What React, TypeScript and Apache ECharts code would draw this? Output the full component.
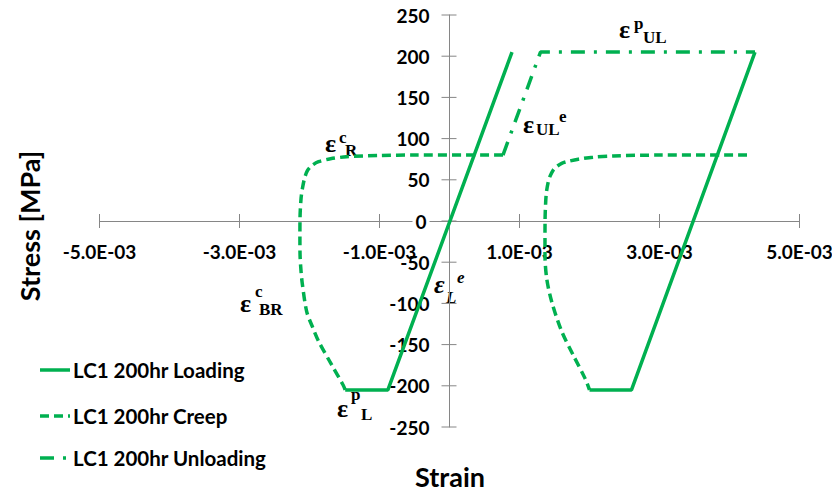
import React, { useEffect, useRef } from "react";
import * as echarts from "echarts";

const GREEN = "#00B050";
const AXIS_GRAY = "#868686";
const SANS = "Lato";
const SERIF = "Liberation Serif";

const seriesNames = ["LC1 200hr Loading", "LC1 200hr Creep", "LC1 200hr Unloading"];

// strain [-], stress [MPa]
const loadingLeft: [number, number][] = [
  [-1.49e-3, -205], [-0.88e-3, -205], [0.893e-3, 205],
];
const loadingRight: [number, number][] = [
  [2.0e-3, -205], [2.6e-3, -205], [4.364e-3, 205],
];
const creepLeft: [number, number][] = [
  [0.764e-3, 80], [-0.5e-3, 80], [-1.0e-3, 79.5], [-1.47e-3, 78], [-1.7e-3, 75.5],
  [-1.87e-3, 72], [-1.97e-3, 67], [-2.03e-3, 61], [-2.07e-3, 52], [-2.1e-3, 40],
  [-2.12e-3, 28], [-2.135e-3, 5], [-2.137e-3, -20], [-2.135e-3, -41], [-2.12e-3, -62],
  [-2.1e-3, -78], [-2.04e-3, -110], [-1.96e-3, -128], [-1.87e-3, -146],
  [-1.68e-3, -175], [-1.52e-3, -199], [-1.49e-3, -205],
];
const creepRight: [number, number][] = [
  [4.25e-3, 80], [3.0e-3, 80], [2.34e-3, 79], [2.05e-3, 77.5], [1.84e-3, 75],
  [1.7e-3, 72.5], [1.603e-3, 70], [1.53e-3, 66], [1.483e-3, 62], [1.44e-3, 55],
  [1.411e-3, 47.7], [1.385e-3, 35], [1.374e-3, 23], [1.365e-3, 0], [1.364e-3, -41],
  [1.389e-3, -70], [1.46e-3, -98], [1.603e-3, -134], [1.769e-3, -163],
  [1.936e-3, -191], [2.0e-3, -205],
];
const unloading: [number, number][] = [
  [0.764e-3, 80], [1.3e-3, 205], [4.364e-3, 205],
];

const xTickValues = [-5e-3, -3e-3, -1e-3, 1e-3, 3e-3, 5e-3];
const yTickValues = [-250, -200, -150, -100, -50, 0, 50, 100, 150, 200, 250];

const DASH_CREEP = [9, 5];
const DASH_UNLOAD = [14, 9, 3, 9];

type Part = { t: string; x: number; base: number; fs: number; italic?: boolean };
const annotations: Part[][] = [
  [{ t: "ε", x: 325, base: 152, fs: 26 }, { t: "c", x: 339, base: 143, fs: 17 }, { t: "R", x: 345, base: 156, fs: 17 }],
  [{ t: "ε", x: 240, base: 312, fs: 26 }, { t: "c", x: 255, base: 297, fs: 17 }, { t: "BR", x: 259, base: 315, fs: 17 }],
  [{ t: "ε", x: 337, base: 417, fs: 26 }, { t: "p", x: 351, base: 400, fs: 17 }, { t: "L", x: 361, base: 420, fs: 17 }],
  [{ t: "ε", x: 434, base: 293, fs: 26, italic: true }, { t: "L", x: 446, base: 303, fs: 17, italic: true }, { t: "e", x: 457, base: 283, fs: 17, italic: true }],
  [{ t: "ε", x: 523, base: 133, fs: 26 }, { t: "UL", x: 536, base: 135.5, fs: 17 }, { t: "e", x: 559, base: 122, fs: 17 }],
  [{ t: "ε", x: 619, base: 38.5, fs: 26 }, { t: "p", x: 634, base: 29, fs: 17 }, { t: "UL", x: 643, base: 43.5, fs: 17 }],
];

function fmtSci(v: number): string {
  const [m, e] = v.toExponential(1).split("e");
  const n = parseInt(e, 10);
  const sign = n < 0 ? "-" : "+";
  return `${m}E${sign}${String(Math.abs(n)).padStart(2, "0")}`;
}

const LABEL_FONT = `bold 19px "${SANS}"`;
const LEGEND_FONT = `bold 20.5px "${SANS}"`;

export default function App() {
  const ref = useRef<HTMLDivElement>(null);
  useEffect(() => {
    if (!ref.current) return;
    const chart = echarts.init(ref.current, undefined, { renderer: "svg" });

    const lineBase = (name: string, data: [number, number][], type: any, smooth: number | boolean = false) => ({
      name,
      type: "line",
      data,
      symbol: "none",
      showSymbol: false,
      smooth,
      z: 3,
      silent: true,
      itemStyle: { color: GREEN },
      lineStyle: { color: GREEN, width: 3.5, type, cap: "butt" },
    });

    // ticks + labels, placed through the axes' scales
    const axisMarks = (vals: number[], isX: boolean) => ({
      type: "custom",
      silent: true,
      z: 1,
      data: vals.map((v) => (isX ? [v, 0] : [0, v])),
      renderItem: (_p: any, api: any) => {
        const v = isX ? api.value(0) : api.value(1);
        const p = api.coord([api.value(0), api.value(1)]);
        const tick = isX
          ? { x1: p[0], y1: p[1] - 7, x2: p[0], y2: p[1] + 7 }
          : { x1: p[0] - 8, y1: p[1], x2: p[0] + 7, y2: p[1] };
        const label = isX ? fmtSci(v) : String(Math.round(v));
        return {
          type: "group",
          children: [
            { type: "line", shape: tick, style: { stroke: AXIS_GRAY, lineWidth: 1 } },
            {
              type: "text",
              x: isX ? p[0] : p[0] - 20,
              y: isX ? p[1] + 21 : p[1],
              style: {
                text: label,
                font: LABEL_FONT,
                fill: "#000",
                align: isX ? "center" : "right",
                verticalAlign: isX ? "top" : "middle",
                backgroundColor: !isX && v === 0 ? "#fff" : undefined,
                padding: !isX && v === 0 ? [0, 3, 0, 3] : undefined,
              },
            },
          ],
        };
      },
    });

    const graphics: any[] = [];
    annotations.forEach((parts) =>
      parts.forEach((p) =>
        graphics.push({
          type: "text",
          x: p.x,
          y: p.base - 0.3375 * p.fs,
          silent: true,
          style: {
            text: p.t,
            fill: "#000",
            font: `${p.italic ? "italic " : ""}bold ${p.fs}px "${SERIF}"`,
            align: "left",
            verticalAlign: "middle",
          },
        })
      )
    );
    graphics.push({
      type: "text",
      x: 450,
      y: 476,
      silent: true,
      style: { text: "Strain", fill: "#000", font: `bold 27px "${SANS}"`, align: "center", verticalAlign: "middle" },
    });
    graphics.push({
      type: "text",
      x: 29,
      y: 226,
      rotation: Math.PI / 2,
      silent: true,
      style: { text: "Stress [MPa]", fill: "#000", font: `bold 27px "${SANS}"`, align: "center", verticalAlign: "middle" },
    });

    // legend
    const legendY = [370, 416, 458];
    const legendDash: any[] = [null, DASH_CREEP, DASH_UNLOAD];
    seriesNames.forEach((name, i) => {
      graphics.push({
        type: "line",
        silent: true,
        shape: { x1: 40, y1: legendY[i], x2: 70, y2: legendY[i] },
        style: { stroke: GREEN, lineWidth: 3.5, lineDash: legendDash[i] || undefined },
      });
      graphics.push({
        type: "text",
        x: 73,
        y: legendY[i],
        silent: true,
        style: { text: name, fill: "#000", font: LEGEND_FONT, align: "left", verticalAlign: "middle" },
      });
    });

    chart.setOption({
      animation: false,
      backgroundColor: "#fff",
      grid: { left: 99.5, right: 32.5, top: 15, bottom: 68, containLabel: false },
      xAxis: {
        type: "value",
        min: -0.005,
        max: 0.005,
        interval: 0.001,
        axisLine: { show: true, onZero: true, lineStyle: { color: AXIS_GRAY, width: 1 } },
        axisTick: { show: false },
        splitLine: { show: false },
        axisLabel: { show: false },
      },
      yAxis: {
        type: "value",
        min: -250,
        max: 250,
        interval: 50,
        axisLine: { show: true, onZero: true, lineStyle: { color: AXIS_GRAY, width: 1 } },
        axisTick: { show: false },
        splitLine: { show: false },
        axisLabel: { show: false },
      },
      series: [
        axisMarks(xTickValues, true),
        axisMarks(yTickValues, false),
        lineBase(seriesNames[0], loadingLeft, "solid"),
        lineBase(seriesNames[0], loadingRight, "solid"),
        lineBase(seriesNames[1], creepLeft, DASH_CREEP, 0.3),
        lineBase(seriesNames[1], creepRight, DASH_CREEP, 0.3),
        lineBase(seriesNames[2], unloading, DASH_UNLOAD),
      ],
      graphic: graphics,
    });
    return () => chart.dispose();
  }, []);
  return (
    <div
      ref={ref}
      style={{ position: "fixed", left: 0, top: 0, width: 832, height: 495, background: "#fff" }}
    />
  );
}
